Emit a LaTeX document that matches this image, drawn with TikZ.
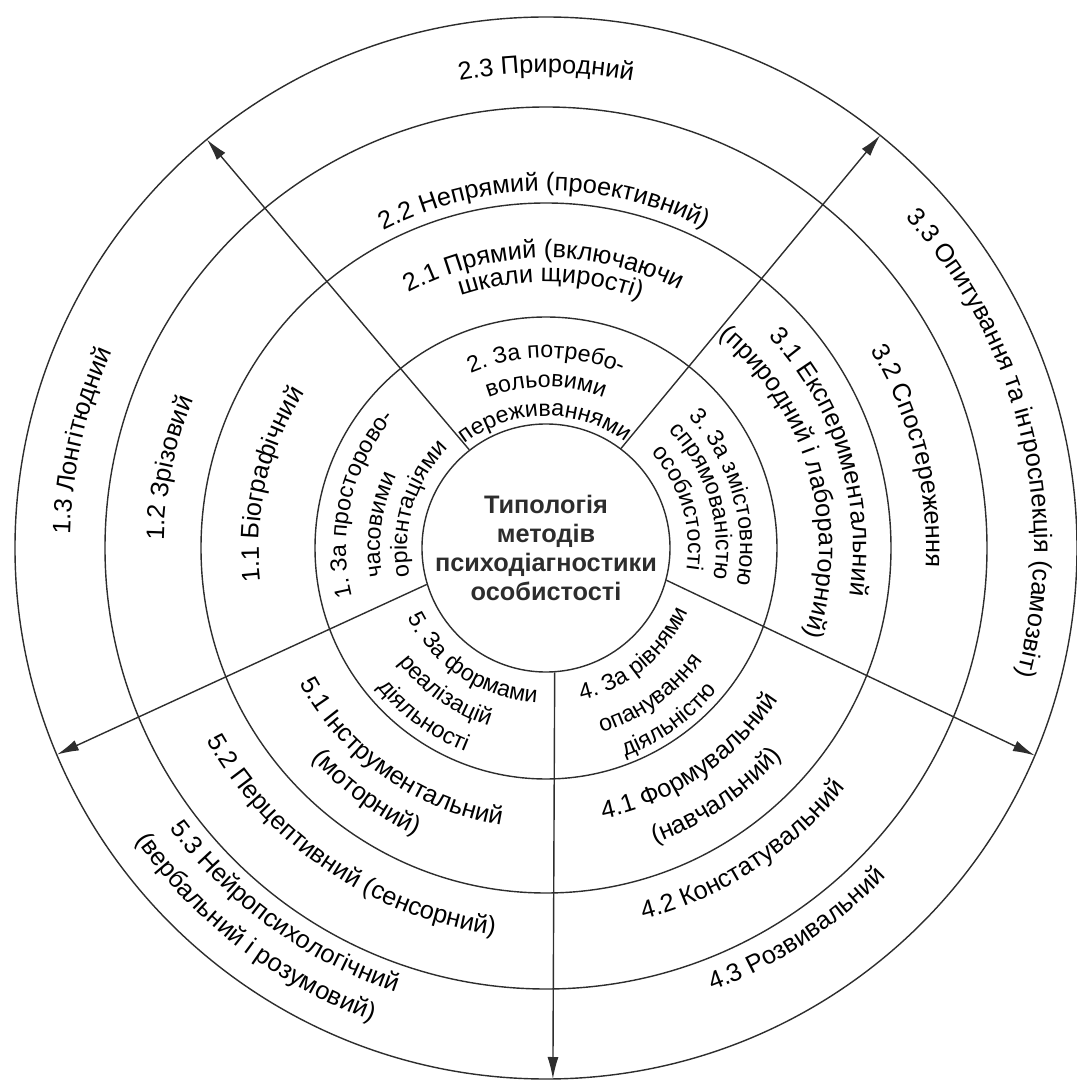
\documentclass[tikz,border=0pt]{standalone}
\usepackage{fontspec}
\setmainfont{Liberation Sans}
\usetikzlibrary{arrows.meta}
\usetikzlibrary{decorations.text}
\definecolor{inkgray}{RGB}{45,45,45}

\newcommand{\ringfont}{\fontsize{14.4}{17}\selectfont}
\newcommand{\hubfont}{\fontsize{13.2}{16}\selectfont}
% label on an arc, tops outward ([font] radius, centre angle, text)
\newcommand{\outlabel}[4][\ringfont]{%
  \path[decorate, decoration={text along path, text align=center, text={|#1|#4}}]
    ({#3+70}:#2) arc[start angle={#3+70}, end angle={#3-70}, radius=#2];}
% label on an arc, tops inward
\newcommand{\inlabel}[4][\ringfont]{%
  \path[decorate, decoration={text along path, text align=center, text={|#1|#4}}]
    ({#3-70}:#2) arc[start angle={#3-70}, end angle={#3+70}, radius=#2];}

\begin{document}
\begin{tikzpicture}[inkgray, line width=0.8pt, >={Latex[length=4.4mm,width=2.2mm]}]
    \useasboundingbox (-10.92,-10.78) rectangle (10.60,10.96);

    \node[circle, draw, minimum size=4.96cm, inner sep=0pt] (core) at (0,0) {};
    \node[align=center, font=\fontsize{14.4}{16.5}\selectfont\bfseries] (title) at (core.center)
        {Типологія\\методів\\психодіагностики\\особистості};

    \foreach \r in {4.62,6.90,8.82,10.62}
        \draw (0,0) circle (\r);

    \coordinate (tipA) at (129.7:10.62);
    \coordinate (tipB) at (51:10.62);
    \coordinate (tipC) at (-23:10.62);
    \coordinate (tipD) at (0.138,-10.62);
    \coordinate (tipE) at (202.9:10.62);
    \draw[->] (core.128) -- (tipA);
    \draw[->] (core.53.6) -- (tipB);
    \draw[->] (core.-15) -- (tipC);
    \draw[->] (core.-86.8) -- (tipD);
    \draw[->] (core.197) -- (tipE);

    % inner ring
    \outlabel[\hubfont]{3.80}{90}{2. За потребо-}
    \outlabel[\hubfont]{3.22}{90}{вольовими}
    \outlabel[\hubfont]{2.64}{90.5}{переживаннями}
    \outlabel[\hubfont]{3.88}{15.8}{3. За змістовною}
    \outlabel[\hubfont]{3.40}{16.7}{спрямованістю}
    \outlabel[\hubfont]{2.84}{16.7}{особистості}
    \outlabel[\hubfont]{4.00}{166.6}{1. За просторово-}
    \outlabel[\hubfont]{3.32}{172}{часовими}
    \outlabel[\hubfont]{2.78}{163}{орієнтаціями}
    \inlabel[\hubfont]{3.12}{-50.5}{4. За рівнями}
    \inlabel[\hubfont]{3.86}{-54.5}{опанування}
    \inlabel[\hubfont]{4.46}{-54.5}{діяльністю}
    \inlabel[\hubfont]{3.10}{236.7}{5. За формами}
    \inlabel[\hubfont]{3.74}{235}{реалізацій}
    \inlabel[\hubfont]{4.38}{234}{діяльності}

    \outlabel{5.80}{90.5}{2.1 Прямий (включаючи}
    \outlabel{5.32}{89}{шкали щирості)}
    \outlabel{6.14}{17.3}{3.1 Експериментальний}
    \outlabel{5.46}{16}{(природний і лабораторний)}
    \outlabel{5.74}{167}{1.1 Біографічний}
    \inlabel{5.54}{-55.6}{4.1 Формувальний}
    \inlabel{6.30}{-55.6}{(навчальний)}
    \inlabel{5.62}{234.8}{5.1 Інструментальний}
    \inlabel{6.30}{233.8}{(моторний)}

    \outlabel{7.14}{90.3}{2.2 Непрямий (проективний)}
    \outlabel{7.60}{14.2}{3.2 Спостереження}
    \outlabel{7.64}{168}{1.2 Зрізовий}
    \inlabel{7.68}{-57}{4.2 Констатувальний}
    \inlabel{7.80}{236}{5.2 Перцептивний (сенсорний)}

    \outlabel{9.50}{90}{2.3 Природний}
    \outlabel{9.76}{13.7}{3.3 Опитування та інтроспекція (самозвіт)}
    \outlabel{9.52}{167}{1.3 Лонгітюдний}
    \inlabel{9.46}{-56.7}{4.3 Розвивальний}
    \inlabel{9.38}{234}{5.3 Нейропсихологічний}
    \inlabel{10.08}{232.6}{(вербальний і розумовий)}
\end{tikzpicture}
\end{document}
